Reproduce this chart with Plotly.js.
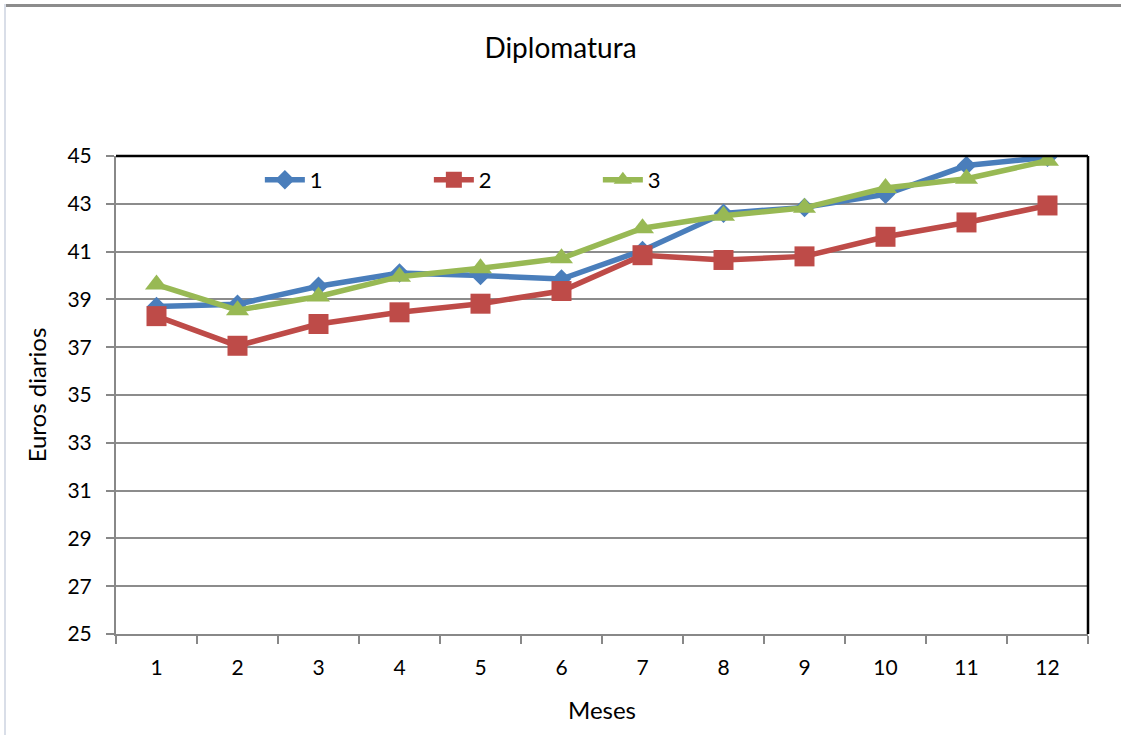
<!DOCTYPE html>
<html>
<head>
<meta charset="utf-8">
<script src="https://cdn.plot.ly/plotly-3.0.1.min.js"></script>
<style>
  html, body { margin: 0; padding: 0; background: #fff; }
  #wrap { position: relative; width: 1121px; height: 735px; }
  #chart { width: 1121px; height: 735px; }
  #topbar { position: absolute; left: 5px; top: 4px; width: 1116px; height: 3px; background: #8c8c8c; }
  #leftbar { position: absolute; left: 4px; top: 4px; width: 2px; height: 731px; background: #d9dee8; }
</style>
</head>
<body>
<div id="wrap">
  <div id="chart"></div>
  <div id="topbar"></div>
  <div id="leftbar"></div>
</div>
<script>
const months = ["1","2","3","4","5","6","7","8","9","10","11","12"];
const serie1 = [38.7, 38.8, 39.55, 40.1, 40.0, 39.85, 41.05, 42.6, 42.85, 43.4, 44.6, 44.95];
const serie2 = [38.3, 37.06, 37.97, 38.46, 38.82, 39.35, 40.85, 40.65, 40.8, 41.62, 42.22, 42.93];
const serie3 = [39.62, 38.55, 39.12, 39.95, 40.3, 40.72, 41.98, 42.5, 42.83, 43.66, 44.05, 44.8];
const seriesNames = ["1", "2", "3"];
const yTicks = [25, 27, 29, 31, 33, 35, 37, 39, 41, 43, 45];

const FONT = "Lato, 'Open Sans', sans-serif";

const traces = [
  { x: months, y: serie1, name: seriesNames[0], type: "scatter", mode: "lines+markers",
    line: { color: "#4A7EBB", width: 5.5 },
    marker: { symbol: "diamond", size: 15, color: "#4A7EBB" } },
  { x: months, y: serie2, name: seriesNames[1], type: "scatter", mode: "lines+markers",
    line: { color: "#BE4B48", width: 5.5 },
    marker: { symbol: "square", size: 20, color: "#BE4B48" } },
  { x: months, y: serie3, name: seriesNames[2], type: "scatter", mode: "lines+markers",
    line: { color: "#98B954", width: 5.5 },
    marker: { symbol: "triangle-up", size: 20, color: "#98B954" } }
];

const layout = {
  width: 1121, height: 735,
  margin: { l: 116, r: 33, t: 156, b: 101 },
  paper_bgcolor: "#ffffff",
  plot_bgcolor: "#ffffff",
  font: { family: FONT, size: 21, color: "#000" },
  title: { text: "Diplomatura", font: { family: FONT, size: 28, color: "#000" },
           x: 0.5, xanchor: "center", y: 1 - 48/735, yanchor: "middle" },
  showlegend: true,
  legend: { orientation: "h", x: 0.148, xanchor: "left", y: 0.95, yanchor: "middle",
            entrywidth: 114, entrywidthmode: "pixels", bgcolor: "rgba(0,0,0,0)",
            font: { family: FONT, size: 22, color: "#000" }, itemwidth: 40 },
  xaxis: {
    type: "category", range: [-0.5, 11.5], tickson: "boundaries", ticks: "outside", ticklen: 8, tickwidth: 2,
    tickcolor: "#888", showline: true, linecolor: "#888", linewidth: 2,
    showgrid: false, zeroline: false, ticklabelstandoff: 14,
    tickfont: { family: FONT, size: 21, color: "#000" },
    title: { text: "Meses", font: { family: FONT, size: 24, color: "#000" }, standoff: 24 },
    fixedrange: true
  },
  yaxis: {
    range: [25, 45], tickvals: yTicks, ticktext: yTicks.map(String),
    ticks: "outside", ticklen: 8, tickwidth: 2, tickcolor: "#888",
    showline: true, linecolor: "#888", linewidth: 2,
    showgrid: true, gridcolor: "#8c8c8c", gridwidth: 2, zeroline: false,
    ticklabelstandoff: 10,
    tickfont: { family: FONT, size: 21, color: "#000" },
    title: { text: "Euros diarios", font: { family: FONT, size: 24, color: "#000" }, standoff: 14 },
    fixedrange: true
  },
  shapes: [
    { type: "line", xref: "paper", yref: "paper", x0: 0, x1: 1, y0: 1, y1: 1,
      line: { color: "#000", width: 2.5 } },
    { type: "line", xref: "paper", yref: "paper", x0: 1, x1: 1, y0: 0, y1: 1,
      line: { color: "#000", width: 2.5 } }
  ]
};

Plotly.newPlot("chart", traces, layout, { displayModeBar: false, staticPlot: true });
</script>
</body>
</html>
